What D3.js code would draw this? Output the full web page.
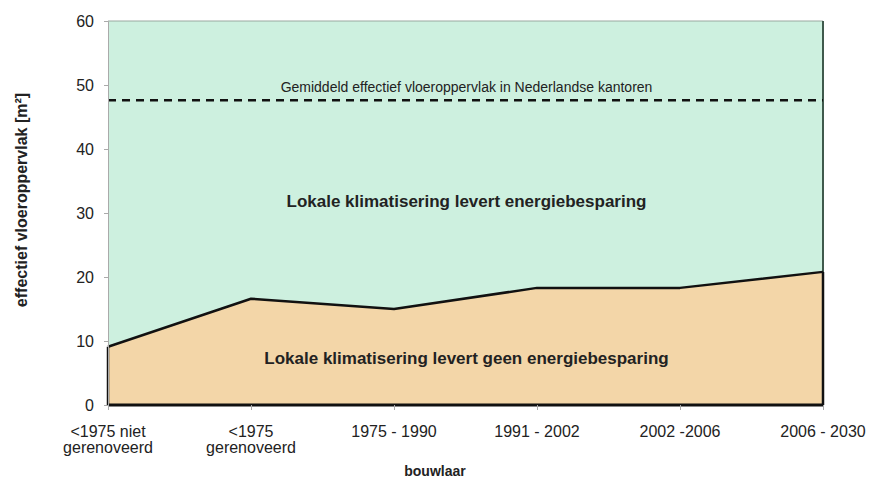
<!DOCTYPE html>
<html>
<head>
<meta charset="utf-8">
<script src="https://cdn.jsdelivr.net/npm/d3@7"></script>
<style>
  body { margin: 0; background: #fff; }
  svg text { font-family: "Liberation Sans", Arial, sans-serif; fill: #222; }
</style>
</head>
<body>
<svg id="chart" width="870" height="479"></svg>
<script>
"use strict";

var categories = [["<1975 niet", "gerenoveerd"], ["<1975", "gerenoveerd"], ["1975 - 1990"], ["1991 - 2002"], ["2002 -2006"], ["2006 - 2030"]];
var values = [9.1, 16.6, 15.0, 18.3, 18.3, 20.8];
var averageValue = 47.6;
var yTicks = [0, 10, 20, 30, 40, 50, 60];

var svg = d3.select("#chart");
var margin = { left: 108, right: 47, top: 21, bottom: 74 };
var width = 870 - margin.left - margin.right;
var height = 479 - margin.top - margin.bottom;

var keys = categories.map(function (c, i) { return i; });
var x = d3.scalePoint().domain(keys).range([0, width]);
var y = d3.scaleLinear().domain([0, 60]).range([height, 0]);

var g = svg.append("g").attr("transform", "translate(" + margin.left + "," + margin.top + ")");

// upper (green) area
g.append("rect")
  .attr("x", 0).attr("y", 0)
  .attr("width", width).attr("height", height)
  .attr("fill", "#cdf0df");

g.append("line")
  .attr("x1", 0).attr("x2", width).attr("y1", 0).attr("y2", 0)
  .attr("stroke", "#9aa8a0").attr("stroke-width", 1);
g.append("line")
  .attr("x1", width).attr("x2", width).attr("y1", 0).attr("y2", height)
  .attr("stroke", "#3f5a4c").attr("stroke-width", 2);

// lower (orange) area
var area = d3.area()
  .x(function (d, i) { return x(i); })
  .y0(y(0))
  .y1(function (d) { return y(d); });

g.append("path")
  .datum(values)
  .attr("fill", "#f3d6a8")
  .attr("d", area);

var line = d3.line()
  .x(function (d, i) { return x(i); })
  .y(function (d) { return y(d); });

g.append("path")
  .datum(values)
  .attr("fill", "none")
  .attr("stroke", "#111")
  .attr("stroke-width", 2.5)
  .attr("stroke-linejoin", "round")
  .attr("d", line);

g.append("line")
  .attr("x1", 0).attr("x2", 0).attr("y1", y(values[0])).attr("y2", y(0))
  .attr("stroke", "#111").attr("stroke-width", 2.5);
g.append("line")
  .attr("x1", width).attr("x2", width).attr("y1", y(values[values.length - 1])).attr("y2", y(0))
  .attr("stroke", "#111").attr("stroke-width", 2.5);
g.append("line")
  .attr("x1", 0).attr("x2", width).attr("y1", y(0)).attr("y2", y(0))
  .attr("stroke", "#111").attr("stroke-width", 3);

// average dashed line
g.append("line")
  .attr("x1", 0).attr("x2", width)
  .attr("y1", y(averageValue)).attr("y2", y(averageValue))
  .attr("stroke", "#111").attr("stroke-width", 2.5)
  .attr("stroke-dasharray", "8,6");

g.append("text")
  .attr("x", width / 2 + 1).attr("y", y(averageValue) - 8)
  .attr("text-anchor", "middle")
  .style("font-size", "14px")
  .text("Gemiddeld effectief vloeroppervlak in Nederlandse kantoren");

g.append("text")
  .attr("x", width / 2 + 1).attr("y", y(31))
  .attr("text-anchor", "middle")
  .style("font-size", "17px").style("font-weight", "bold")
  .text("Lokale klimatisering levert energiebesparing");

g.append("text")
  .attr("x", width / 2 + 1).attr("y", y(6.4))
  .attr("text-anchor", "middle")
  .style("font-size", "17px").style("font-weight", "bold")
  .text("Lokale klimatisering levert geen energiebesparing");

// y axis
var yAxis = g.append("g")
  .call(d3.axisLeft(y).tickValues(yTicks).tickSize(4).tickPadding(10));
yAxis.select(".domain").attr("stroke", "#aaa");
yAxis.selectAll(".tick line").attr("stroke", "#aaa");
yAxis.selectAll(".tick text")
  .style("font-size", "16px")
  .style("font-family", "'Liberation Sans', Arial, sans-serif")
  .attr("fill", "#222");

// x axis
var xAxis = g.append("g")
  .attr("transform", "translate(0," + height + ")")
  .call(d3.axisBottom(x).tickSize(5).tickFormat(""));
xAxis.select(".domain").remove();
xAxis.selectAll(".tick line").attr("stroke", "#aaa");

g.selectAll("text.xlabel")
  .data(categories)
  .enter()
  .append("text")
  .attr("class", "xlabel")
  .attr("text-anchor", "middle")
  .attr("transform", function (d, i) { return "translate(" + x(i) + "," + (height + 32) + ")"; })
  .style("font-size", "16px")
  .each(function (d) {
    var t = d3.select(this);
    d.forEach(function (s, k) {
      t.append("tspan").attr("x", 0).attr("dy", k === 0 ? 0 : 16).text(s);
    });
  });

svg.append("text")
  .attr("x", 435).attr("y", 476)
  .attr("text-anchor", "middle")
  .style("font-size", "14px").style("font-weight", "bold")
  .text("bouwlaar");

svg.append("text")
  .attr("transform", "translate(27," + 200 + ") rotate(-90)")
  .attr("text-anchor", "middle")
  .style("font-size", "16px").style("font-weight", "bold")
  .text("effectief vloeroppervlak [m²]");
</script>
</body>
</html>
